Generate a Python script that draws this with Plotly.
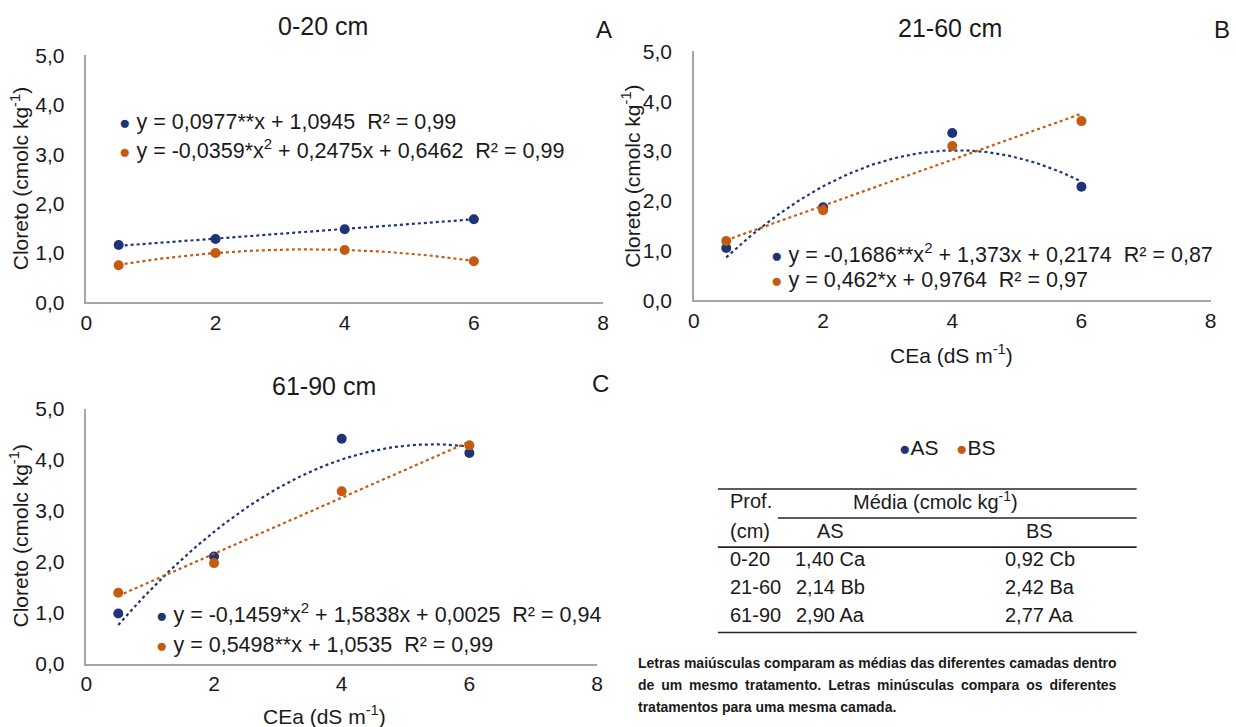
import plotly.graph_objects as go
import numpy as np

W, H = 1236, 727

# ---------------- data ----------------
cea = [0.5, 2, 4, 6]

a_as = [1.16, 1.28, 1.48, 1.68]
a_bs = [0.75, 1.00, 1.06, 0.83]
b_as = [1.05, 1.87, 3.36, 2.28]
b_bs = [1.19, 1.81, 3.10, 3.60]
c_as = [0.98, 2.10, 4.41, 4.13]
c_bs = [1.39, 1.97, 3.38, 4.28]

# trendline coefficients (highest power first)
a_as_fit = [0.0977, 1.0945]
a_bs_fit = [-0.0359, 0.2475, 0.6462]
b_as_fit = [-0.1686, 1.373, 0.2174]
b_bs_fit = [0.462, 0.9764]
c_as_fit = [-0.1459, 1.5838, 0.0025]
c_bs_fit = [0.5498, 1.0535]

eq_a_as = "y = 0,0977**x + 1,0945  R² = 0,99"
eq_a_bs = "y = -0,0359*x<sup>2</sup> + 0,2475x + 0,6462  R² = 0,99"
eq_b_as = "y = -0,1686**x<sup>2</sup> + 1,373x + 0,2174  R² = 0,87"
eq_b_bs = "y = 0,462*x + 0,9764  R² = 0,97"
eq_c_as = "y = -0,1459*x<sup>2</sup> + 1,5838x + 0,0025  R² = 0,94"
eq_c_bs = "y = 0,5498**x + 1,0535  R² = 0,99"

panel_titles = ["0-20 cm", "21-60 cm", "61-90 cm"]
panel_letters = ["A", "B", "C"]

x_ticks = [0, 2, 4, 6, 8]
x_ticklabels = ["0", "2", "4", "6", "8"]
y_ticks = [0, 1, 2, 3, 4, 5]
y_ticklabels = ["0,0", "1,0", "2,0", "3,0", "4,0", "5,0"]

series_names = ["AS", "BS"]

table_depths = ["0-20", "21-60", "61-90"]
table_as = ["1,40 Ca", "2,14 Bb", "2,90 Aa"]
table_bs = ["0,92 Cb", "2,42 Ba", "2,77 Aa"]

note_lines = [
    "Letras maiúsculas comparam as médias das diferentes camadas dentro",
    "de um mesmo tratamento. Letras minúsculas compara os diferentes",
    "tratamentos para uma mesma camada.",
]

# ---------------- style ----------------
BLUE = "#1f3478"
ORANGE = "#c55a11"
AXIS = "#a6a6a6"
TXT = "#1a1a1a"
FONT = "Liberation Sans, Arial, sans-serif"


def px(x):
    return (618 + (x - 618) / 0.991) / W


def py(y):
    return 1 - (363.5 + (y - 363.5) / 0.965) / H


# panel pixel boxes: (left, right, bottom, top)
boxes = [(86, 603, 302, 56), (694, 1211, 300, 52), (86, 597, 662, 408)]

fig = go.Figure()

panels = [
    (a_as, a_bs, a_as_fit, a_bs_fit),
    (b_as, b_bs, b_as_fit, b_bs_fit),
    (c_as, c_bs, c_as_fit, c_bs_fit),
]

xfit = np.linspace(cea[0], cea[-1], 120)

for i, (yas, ybs, fas, fbs) in enumerate(panels):
    n = "" if i == 0 else str(i + 1)
    xa, ya = "x" + n, "y" + n
    for vals, fit, col in [(yas, fas, BLUE), (ybs, fbs, ORANGE)]:
        fig.add_trace(go.Scatter(x=xfit, y=np.polyval(fit, xfit), mode="lines",
                                 line=dict(color=col, width=2.2, dash="dot"),
                                 xaxis=xa, yaxis=ya, showlegend=False, hoverinfo="skip"))
        fig.add_trace(go.Scatter(x=cea, y=vals, mode="markers",
                                 marker=dict(color=col, size=10),
                                 xaxis=xa, yaxis=ya, showlegend=False))
    l, r, b, t = boxes[i]
    axcommon = dict(showgrid=False, zeroline=False, showline=True, linecolor=AXIS,
                    linewidth=1.5, tickfont=dict(family=FONT, size=21, color=TXT),
                    ticks="outside", tickcolor="rgba(0,0,0,0)")
    fig.layout["xaxis" + n] = dict(axcommon, domain=[px(l), px(r)], range=[0, 8],
                                   tickvals=x_ticks, ticktext=x_ticklabels, ticklen=1,
                                   anchor=ya)
    fig.layout["yaxis" + n] = dict(axcommon, domain=[py(b), py(t)], range=[0, 5],
                                   tickvals=y_ticks, ticktext=y_ticklabels, ticklen=16,
                                   anchor=xa)

ann = []


def text(x, y, s, size=21, xanchor="center", yanchor="middle", angle=0, color=TXT):
    ann.append(dict(x=px(x), y=py(y), xref="paper", yref="paper", text=s, showarrow=False,
                    xanchor=xanchor, yanchor=yanchor, textangle=angle,
                    font=dict(family=FONT, size=size, color=color)))


# titles & letters
text(323, 27, panel_titles[0], 25)
text(950, 29, panel_titles[1], 25)
text(324, 385, panel_titles[2], 25)
text(604, 30, panel_letters[0], 24)
text(1222, 30, panel_letters[1], 24)
text(600, 383, panel_letters[2], 24)

# axis titles
ytitle = "Cloreto (cmolc kg<sup>-1</sup>)"
text(19, 179, ytitle, 21, angle=-90)
text(631, 176, ytitle, 21, angle=-90)
text(19, 535, ytitle, 21, angle=-90)
xtitle = "CEa (dS m<sup>-1</sup>)"
text(952, 354, xtitle, 21)
text(324, 713, xtitle, 21)

DOT = "<span style='font-size:19px;color:%s'>●</span>"


def eq(x, y, s, col):
    text(x, y, (DOT % col) + " %s" % s, 21.5, xanchor="left")


eq(117, 122, eq_a_as, BLUE)
eq(117, 149, eq_a_bs, ORANGE)
eq(769, 253, eq_b_as, BLUE)
eq(769, 280, eq_b_bs, ORANGE)
eq(154, 612, eq_c_as, BLUE)
eq(154, 644, eq_c_bs, ORANGE)

# legend
text(948, 447, (DOT % BLUE) + series_names[0] + "   " + (DOT % ORANGE) + series_names[1], 21)

# table
tsize = 20
text(728, 500, "Prof.", tsize, xanchor="left")
text(728, 530, "(cm)", tsize, xanchor="left")
text(936, 500, "Média (cmolc kg<sup>-1</sup>)", tsize)
text(831, 530, series_names[0], tsize)
text(1040, 530, series_names[1], tsize)
for k, (d, va, vb) in enumerate(zip(table_depths, table_as, table_bs)):
    yy = 558 + 28 * k
    text(728, yy, d, tsize, xanchor="left")
    text(831, yy, va, tsize)
    text(1040, yy, vb, tsize)

shapes = []
for (x0, x1, yy) in [(718, 1137, 488), (778, 1137, 517), (718, 1137, 546), (718, 1137, 631)]:
    shapes.append(dict(type="line", xref="paper", yref="paper", x0=px(x0), x1=px(x1),
                       y0=py(yy), y1=py(yy), line=dict(color="#262626", width=1.6)))

# note
nsize = 14
text(636, 661, "<b>%s</b>" % note_lines[0], nsize, xanchor="left")
text(636, 683, "<b><span style='word-spacing:3px'>%s</span></b>" % note_lines[1], nsize, xanchor="left")
text(636, 705, "<b>%s</b>" % note_lines[2], nsize, xanchor="left")

fig.update_layout(width=W, height=H, margin=dict(l=0, r=0, t=0, b=0),
                  paper_bgcolor="white", plot_bgcolor="white",
                  annotations=ann, shapes=shapes, showlegend=False,
                  font=dict(family=FONT, color=TXT))

fig.write_html("out.html")
